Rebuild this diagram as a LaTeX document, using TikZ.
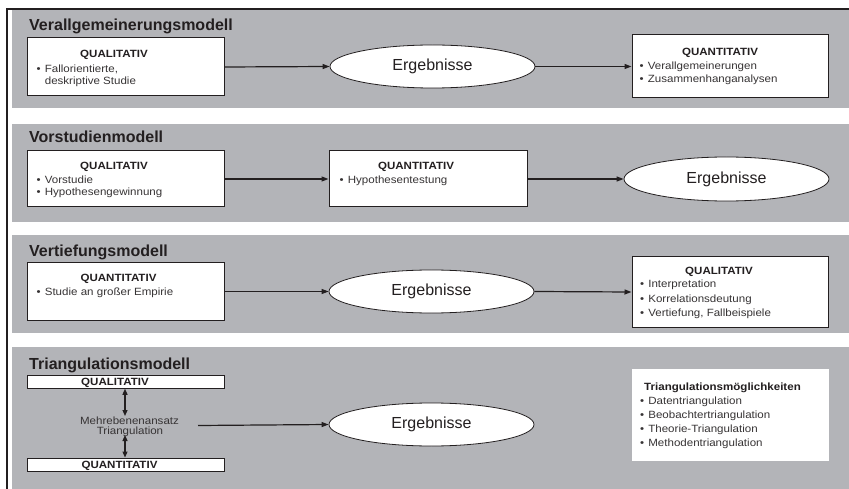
\documentclass[tikz,border=0pt]{standalone}
\usepackage{fontspec}
\usepackage{graphicx}
\setmainfont{Liberation Sans}
\usetikzlibrary{arrows.meta,shapes.geometric}
\definecolor{panel}{RGB}{179,180,184}
\definecolor{ink}{RGB}{35,31,32}
\definecolor{softink}{RGB}{55,52,53}
% small box text is set slightly wide
\newcommand\wtxt[1]{\scalebox{1.1}[1]{#1}}
\newcommand\bul{\makebox[7.4pt][l]{•}}
\tikzset{
  panelbg/.style={fill=panel, draw=none},
  title/.style={anchor=base west, inner sep=0, text=ink,
    font=\bfseries\fontsize{16}{16}\selectfont},
  box/.style={rectangle, draw=ink, line width=1pt, fill=white, inner sep=0},
  plain/.style={rectangle, draw=none, fill=white, inner sep=0},
  result/.style={ellipse, draw=ink, line width=0.8pt, fill=white, inner sep=0,
    minimum width=205pt, minimum height=43pt, text=ink,
    font=\fontsize{16}{16}\selectfont},
  hdr/.style={anchor=base, inner sep=0, text=ink,
    font=\bfseries\fontsize{10.5}{10.5}\selectfont},
  hdrl/.style={hdr, anchor=base west},
  item/.style={anchor=base west, inner sep=0, text=softink,
    font=\fontsize{10.5}{10.5}\selectfont},
  midtext/.style={item, anchor=base},
  flow/.style={draw=ink, line width=1.2pt, -{Triangle[length=7pt,width=5pt]}},
  link/.style={draw=ink, line width=1.2pt,
    {Triangle[length=6pt,width=5pt]}-{Triangle[length=6pt,width=5pt]}},
  frame/.style={draw=ink, line width=1.6pt}
}
\begin{document}
\begin{tikzpicture}[x=1pt,y=-1pt]
\path[use as bounding box] (0,0) rectangle (849,489);

% outer frame (top and left edge)
\draw[frame] (7,489) -- (7,9) -- (849,9);

% grey bands
\fill[panelbg] (12,10.5) rectangle (849,108);
\fill[panelbg] (12,124) rectangle (849,222);
\fill[panelbg] (12,235) rectangle (849,333);
\fill[panelbg] (12,347) rectangle (849,489);

% ---------- Verallgemeinerungsmodell ----------
\node[title] (t1) at (29,31) {Verallgemeinerungsmodell};
\node[box, minimum width=197pt, minimum height=58pt] (b1a) at (125.5,67) {};
\node[hdr] (b1a-h) at (114,57.3) {\wtxt{QUALITATIV}};
\node[item] (b1a-1) at (36.5,72.7) {\wtxt{\bul Fallorientierte,}};
\node[item] (b1a-2) at (36.5,85) {\wtxt{\hphantom{\bul}deskriptive Studie}};
\node[result] (e1) at (432.5,66.5) {Ergebnisse};
\node[box, minimum width=196pt, minimum height=63pt] (b1b) at (730,66.5) {};
\node[hdr] (b1b-h) at (720,55.7) {\wtxt{QUANTITATIV}};
\node[item] (b1b-1) at (639.5,70) {\wtxt{\bul Verallgemeinerungen}};
\node[item] (b1b-2) at (639.5,82.7) {\wtxt{\bul Zusammenhanganalysen}};
\draw[flow] (b1a.east) -- (e1.west);
\draw[flow] (e1.east) -- (b1b.west);

% ---------- Vorstudienmodell ----------
\node[title] (t2) at (29,143) {Vorstudienmodell};
\node[box, minimum width=197pt, minimum height=56pt] (b2a) at (125.5,179) {};
\node[hdr] (b2a-h) at (114,169.3) {\wtxt{QUALITATIV}};
\node[item] (b2a-1) at (36.5,183.3) {\wtxt{\bul Vorstudie}};
\node[item] (b2a-2) at (36.5,196) {\wtxt{\bul Hypothesengewinnung}};
\node[box, minimum width=198pt, minimum height=56pt] (b2b) at (428,179) {};
\node[hdr] (b2b-h) at (416,169.3) {\wtxt{QUANTITATIV}};
\node[item] (b2b-1) at (339.5,183.3) {\wtxt{\bul Hypothesentestung}};
\node[result, minimum height=44pt] (e2) at (726.5,179) {Ergebnisse};
\draw[flow] (b2a.east) -- (b2b.west);
\draw[flow] (b2b.east) -- (e2.west);

% ---------- Vertiefungsmodell ----------
\node[title] (t3) at (29,257) {Vertiefungsmodell};
\node[box, minimum width=197pt, minimum height=57pt] (b3a) at (125.5,291.5) {};
\node[hdr] (b3a-h) at (118.5,281) {\wtxt{QUANTITATIV}};
\node[item] (b3a-1) at (36.5,295) {\wtxt{\bul Studie an großer Empirie}};
\node[result] (e3) at (431.5,291.5) {Ergebnisse};
\node[box, minimum width=196pt, minimum height=70pt] (b3b) at (730,292) {};
\node[hdr] (b3b-h) at (719,274) {\wtxt{QUALITATIV}};
\node[item] (b3b-1) at (640,287.7) {\wtxt{\bul Interpretation}};
\node[item] (b3b-2) at (640,302.2) {\wtxt{\bul Korrelationsdeutung}};
\node[item] (b3b-3) at (640,316.7) {\wtxt{\bul Vertiefung, Fallbeispiele}};
\draw[flow] (b3a.east) -- (e3.west);
\draw[flow] (e3.east) -- (b3b.west);

% ---------- Triangulationsmodell ----------
\node[title] (t4) at (29,369.3) {Triangulationsmodell};
\node[box, minimum width=197pt, minimum height=12.5pt] (b4a) at (125.5,382) {};
\node[hdr] (b4a-h) at (115,385.7) {\wtxt{QUALITATIV}};
\node[box, minimum width=197pt, minimum height=13pt] (b4b) at (125.5,464.5) {};
\node[hdr] (b4b-h) at (119.5,468.3) {\wtxt{QUANTITATIV}};
\coordinate (up) at (125,416);
\coordinate (down) at (125,435);
\draw[link] (b4a.south -| up) -- (up);
\draw[link] (down) -- (b4b.north -| down);
\node[midtext] (m1) at (129.5,424.3) {\wtxt{Mehrebenenansatz}};
\node[midtext] (m2) at (130,434.3) {\wtxt{Triangulation}};
\coordinate (mstart) at (198,425.5);
\node[result] (e4) at (431.5,424.5) {Ergebnisse};
\draw[flow] (mstart) -- (e4.west);
\node[plain, minimum width=197pt, minimum height=92pt] (b4c) at (730.5,415) {};
\node[hdrl] (b4c-h) at (644,390.7) {\wtxt{Triangulationsmöglichkeiten}};
\node[item] (b4c-1) at (640,404.3) {\wtxt{\bul Datentriangulation}};
\node[item] (b4c-2) at (640,418.3) {\wtxt{\bul Beobachtertriangulation}};
\node[item] (b4c-3) at (640,432.3) {\wtxt{\bul Theorie-Triangulation}};
\node[item] (b4c-4) at (640,446.7) {\wtxt{\bul Methodentriangulation}};
\end{tikzpicture}
\end{document}
